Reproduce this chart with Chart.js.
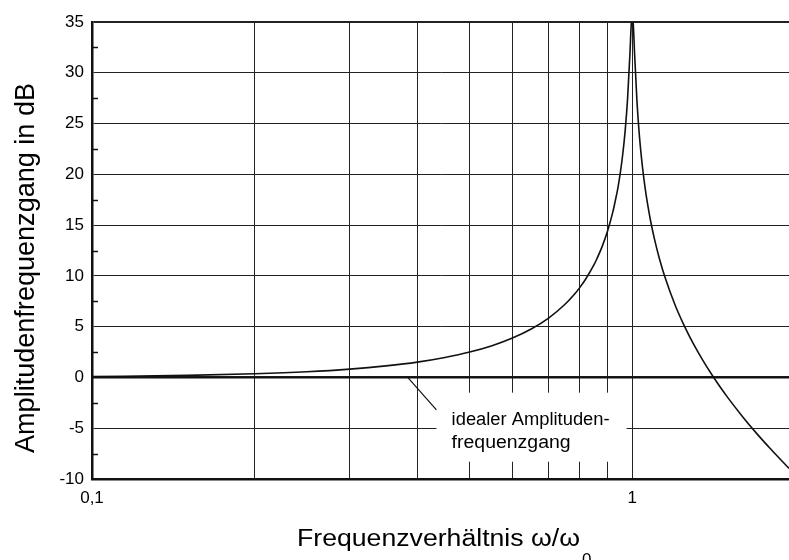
<!DOCTYPE html>
<html>
<head>
<meta charset="utf-8">
<script src="https://cdn.jsdelivr.net/npm/chart.js@4"></script>
<style>
    html, body { margin: 0; padding: 0; background: #fff; }
    #wrap { width: 789px; height: 560px; }
</style>
</head>
<body>
<div id="wrap"><canvas id="ampChart" width="789" height="560"></canvas></div>
<script>

// frequency ratio omega/omega0 and amplitude response in dB
const freqRatio = [0.1, 0.15, 0.2, 0.25, 0.3, 0.35, 0.4, 0.45, 0.5, 0.55, 0.6, 0.65, 0.7, 0.75, 0.78, 0.8, 0.82, 0.85, 0.86, 0.88, 0.9, 0.92, 0.93, 0.94, 0.95, 0.96, 0.97, 0.98, 0.99, 0.995, 1.0, 1.005, 1.01, 1.02, 1.03, 1.04, 1.05, 1.06, 1.07, 1.08, 1.1, 1.12, 1.15, 1.2, 1.25, 1.3, 1.35, 1.4, 1.45, 1.5, 1.6, 1.7, 1.8, 1.9, 1.95];
const amplitudeDb = [0.09, 0.2, 0.36, 0.56, 0.82, 1.14, 1.51, 1.97, 2.5, 3.13, 3.88, 4.77, 5.85, 7.18, 8.14, 8.87, 9.69, 11.13, 11.69, 12.93, 14.42, 16.25, 17.39, 18.6, 20.12, 21.95, 24.28, 27.41, 31.89, 34.52, 35.92, 34.45, 31.77, 27.22, 24.0, 21.59, 19.67, 18.08, 16.74, 15.53, 13.54, 11.89, 9.83, 7.13, 5.0, 3.22, 1.7, 0.36, -0.85, -1.94, -3.86, -5.53, -7.0, -8.33, -8.95];

// ideal response (flat 0 dB)
const idealRatio = [0.1, 1.95];
const idealDb = [0, 0];

const gridX = [0.1, 0.2, 0.3, 0.4, 0.5, 0.6, 0.7, 0.8, 0.9, 1];
const labelX = { 0.1: "0,1", 1: "1" };
const minorY = [-7.5, -2.5, 2.5, 7.5, 12.5, 17.5, 22.5, 27.5, 32.5];

const xTitle = "Frequenzverhältnis ω/ω";
const xTitleSub = "0";
const yTitle = "Amplitudenfrequenzgang in dB";
const noteLines = ["idealer Amplituden-", "frequenzgang"];

const FONT = '"Liberation Sans", Arial, Helvetica, sans-serif';

// draw a text stretched to a given width
function fitText(ctx, text, x, y, width) {
    const w = ctx.measureText(text).width;
    ctx.save();
    ctx.translate(x, y);
    ctx.scale(width / w, 1);
    ctx.fillText(text, 0, 0);
    ctx.restore();
}

const extras = {
    id: "extras",
    beforeDatasetsDraw(chart) {
        const ctx = chart.ctx;
        const xs = chart.scales.x;
        const ys = chart.scales.y;

        // white box behind the note
        const bx1 = xs.getPixelForValue(0.434);
        const bx2 = xs.getPixelForValue(0.976);
        const by1 = ys.getPixelForValue(-1.5);
        const by2 = ys.getPixelForValue(-8.3);
        ctx.save();
        ctx.fillStyle = "#fff";
        ctx.fillRect(bx1, by1, bx2 - bx1, by2 - by1);
        ctx.restore();
    },
    afterDraw(chart) {
        const ctx = chart.ctx;
        const xs = chart.scales.x;
        const ys = chart.scales.y;
        const area = chart.chartArea;

        ctx.save();

        // minor ticks on the y axis
        ctx.strokeStyle = "#111";
        ctx.lineWidth = 1.5;
        minorY.forEach(v => {
            const py = Math.round(ys.getPixelForValue(v)) + 0.5;
            ctx.beginPath();
            ctx.moveTo(area.left, py);
            ctx.lineTo(area.left + 6, py);
            ctx.stroke();
        });

        // leader line of the note
        ctx.lineWidth = 1.2;
        ctx.beginPath();
        ctx.moveTo(xs.getPixelForValue(0.384), ys.getPixelForValue(0));
        ctx.lineTo(xs.getPixelForValue(0.434), ys.getPixelForValue(-3.2));
        ctx.stroke();

        // note text
        ctx.fillStyle = "#000";
        ctx.font = "18px " + FONT;
        ctx.textBaseline = "alphabetic";
        const tx = xs.getPixelForValue(0.463);
        fitText(ctx, noteLines[0], tx, ys.getPixelForValue(-4.67), 158);
        fitText(ctx, noteLines[1], tx, ys.getPixelForValue(-6.93), 119);

        // x axis title with subscript
        ctx.font = "23px " + FONT;
        fitText(ctx, xTitle, 297, 546, 283);
        ctx.font = "17px " + FONT;
        ctx.fillText(xTitleSub, 582, 565);

        // y axis title
        ctx.save();
        ctx.translate(34, 268);
        ctx.rotate(-Math.PI / 2);
        ctx.font = "27px " + FONT;
        fitText(ctx, yTitle, -185, 0, 370);
        ctx.restore();

        ctx.restore();
    }
};

const chart = new Chart(document.getElementById("ampChart"), {
    type: "line",
    data: {
        datasets: [
            {
                data: idealRatio.map((v, i) => ({ x: v, y: idealDb[i] })),
                borderColor: "#111",
                borderWidth: 2,
                pointRadius: 0
            },
            {
                data: freqRatio.map((v, i) => ({ x: v, y: amplitudeDb[i] })),
                borderColor: "#111",
                borderWidth: 1.6,
                pointRadius: 0,
                cubicInterpolationMode: "monotone"
            }
        ]
    },
    options: {
        responsive: false,
        animation: false,
        layout: { padding: { top: 22, right: 0, left: 0, bottom: 0 } },
        plugins: {
            legend: { display: false },
            tooltip: { enabled: false }
        },
        scales: {
            x: {
                type: "logarithmic",
                min: 0.1,
                max: 1.95,
                afterBuildTicks(scale) {
                    scale.ticks = gridX.map(v => ({ value: v }));
                },
                afterFit(scale) {
                    scale.height = 81;
                },
                ticks: {
                    autoSkip: false,
                    maxRotation: 0,
                    padding: 9,
                    color: "#000",
                    font: { family: FONT, size: 17 },
                    callback: v => labelX[v] || ""
                },
                grid: {
                    color: "#222",
                    lineWidth: 1,
                    drawTicks: false
                },
                border: { color: "#111", width: 2.5 }
            },
            y: {
                min: -10,
                max: 35,
                afterFit(scale) {
                    scale.width = 92;
                },
                ticks: {
                    stepSize: 5,
                    padding: 8,
                    color: "#000",
                    font: { family: FONT, size: 17 }
                },
                grid: {
                    color: "#222",
                    lineWidth: c => (c.tick && (c.tick.value === 0 || c.tick.value === 35)) ? 2 : 1,
                    drawTicks: false
                },
                border: { color: "#111", width: 2.5 }
            }
        }
    },
    plugins: [extras]
});

</script>
</body>
</html>
